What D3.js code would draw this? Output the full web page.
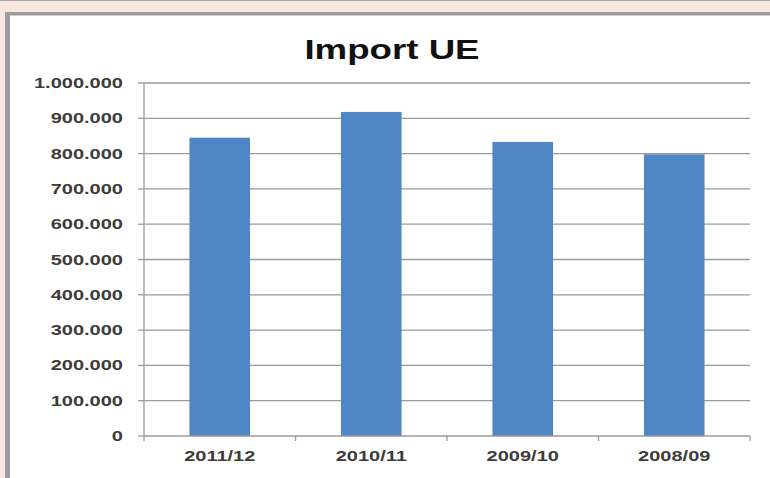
<!DOCTYPE html>
<html>
<head>
<meta charset="utf-8">
<script src="https://cdn.jsdelivr.net/npm/d3@7"></script>
<style>
  body { margin: 0; background: #f7e7e0; }
  svg { display: block; }
  text { font-family: "Liberation Sans", Arial, sans-serif; }
</style>
</head>
<body>
<svg id="chart" width="770" height="478"></svg>
<script>
// Import volumes per marketing year
const categories = ["2011/12", "2010/11", "2009/10", "2008/09"];
const values = [845000, 918000, 833000, 798000];
const yTicks = [0, 100000, 200000, 300000, 400000, 500000, 600000, 700000, 800000, 900000, 1000000];
const chartTitle = "Import UE";

const W = 770, H = 478;
const plot = { left: 144, right: 750, top: 83, bottom: 436 };
const stretch = 1.43; // wide lettering of the axis labels

const svg = d3.select("#chart");

// frame: pink page, grey border, white panel
svg.append("rect").attr("width", W).attr("height", H).attr("fill", "#f7e7e0");
svg.append("line").attr("x1", 0).attr("x2", W).attr("y1", 0.5).attr("y2", 0.5)
  .attr("stroke", "#a8a8a8").attr("stroke-width", 1);
svg.append("rect").attr("x", 5).attr("y", 12).attr("width", W - 5).attr("height", H - 12)
  .attr("fill", "#9c9c9c");
svg.append("rect").attr("x", 10).attr("y", 15.5).attr("width", W - 10).attr("height", H - 15.5)
  .attr("fill", "#ffffff");

const locale = d3.formatLocale({ decimal: ",", thousands: ".", grouping: [3], currency: ["", "€"] });
const fmt = locale.format(",d");

const x = d3.scaleBand().domain(categories)
  .range([plot.left, plot.right]).paddingInner(0.6).paddingOuter(0.3);
const y = d3.scaleLinear().domain([0, 1000000]).range([plot.bottom, plot.top]);

// helper for horizontally widened text
function wideText(g, tx, ty, str, opts) {
  return g.append("text")
    .attr("transform", `translate(${tx},${ty}) scale(${opts.sx || stretch},1)`)
    .attr("text-anchor", opts.anchor || "middle")
    .attr("font-size", opts.size)
    .attr("font-weight", "bold")
    .attr("fill", opts.fill || "#333")
    .text(str);
}

// gridlines
svg.append("g").selectAll("line").data(yTicks.filter(d => d > 0)).join("line")
  .attr("x1", plot.left).attr("x2", plot.right)
  .attr("y1", d => y(d)).attr("y2", d => y(d))
  .attr("stroke", "#9a9a9a").attr("stroke-width", 1.3);

// y axis line and tick marks
svg.append("line").attr("x1", plot.left).attr("x2", plot.left)
  .attr("y1", plot.top).attr("y2", plot.bottom)
  .attr("stroke", "#9a9a9a").attr("stroke-width", 1.3);
svg.append("g").selectAll("line").data(yTicks).join("line")
  .attr("x1", plot.left - 6).attr("x2", plot.left)
  .attr("y1", d => y(d)).attr("y2", d => y(d))
  .attr("stroke", "#9a9a9a").attr("stroke-width", 1.3);

// y labels
const yl = svg.append("g");
yTicks.forEach(t => wideText(yl, 123, y(t) + 5, fmt(t), { anchor: "end", size: 14, fill: "#3c3c3c" }));

// bars
svg.append("g").selectAll("rect").data(values).join("rect")
  .attr("x", (d, i) => x(categories[i]))
  .attr("width", x.bandwidth())
  .attr("y", d => y(d))
  .attr("height", d => y(0) - y(d))
  .attr("fill", "#4e86c6");

// x axis baseline and category boundary ticks
svg.append("line").attr("x1", plot.left).attr("x2", plot.right)
  .attr("y1", plot.bottom).attr("y2", plot.bottom)
  .attr("stroke", "#9a9a9a").attr("stroke-width", 1.3);
const step = x.step();
const bounds = d3.range(categories.length + 1).map(i => plot.left + i * step);
svg.append("g").selectAll("line").data(bounds).join("line")
  .attr("x1", d => d).attr("x2", d => d)
  .attr("y1", plot.bottom).attr("y2", plot.bottom + 5)
  .attr("stroke", "#9a9a9a").attr("stroke-width", 1.3);

// category labels
const xl = svg.append("g");
categories.forEach(c => wideText(xl, x(c) + x.bandwidth() / 2, 461, c, { size: 14, fill: "#3c3c3c" }));

// title
wideText(svg, 392, 59, chartTitle, { size: 28, fill: "#111", sx: 1.31 });
</script>
</body>
</html>
